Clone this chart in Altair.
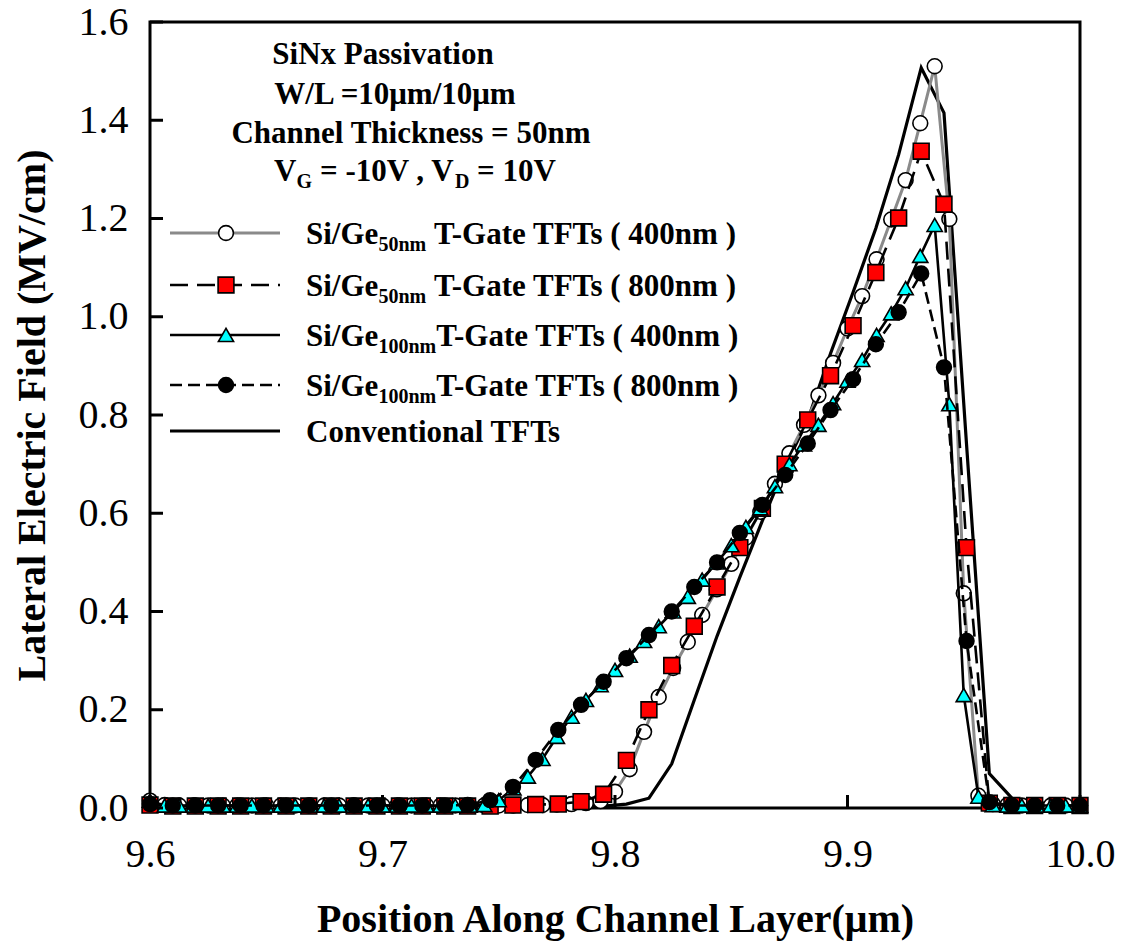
import altair as alt
import pandas as pd

# ---------------- data ----------------
# fine mesh (open circles / triangles series)
x_fine = [9.6, 9.6063, 9.6125, 9.6188, 9.625, 9.6313, 9.6375, 9.6438, 9.65, 9.6563,
          9.6625, 9.6688, 9.675, 9.6813, 9.6875, 9.6938, 9.7, 9.7063, 9.7125, 9.7188,
          9.725, 9.7313, 9.7375, 9.7438, 9.75, 9.7563, 9.7625, 9.7688, 9.775, 9.7813,
          9.7875, 9.7938, 9.8, 9.8063, 9.8125, 9.8188, 9.825, 9.8313, 9.8375, 9.8438,
          9.85, 9.8563, 9.8625, 9.8688, 9.875, 9.8813, 9.8875, 9.8938, 9.9, 9.9063,
          9.9125, 9.9188, 9.925, 9.9313, 9.9375, 9.9438, 9.95, 9.9563, 9.9625, 9.9688,
          9.975, 9.9813, 9.9875, 9.9938, 10.0]
# coarse mesh (squares / dots / conventional)
x_coarse = [9.6, 9.6098, 9.6195, 9.6293, 9.639, 9.6488, 9.6585, 9.6683, 9.678, 9.6878,
            9.6976, 9.7073, 9.7171, 9.7268, 9.7366, 9.7463, 9.7561, 9.7659, 9.7756, 9.7854,
            9.7951, 9.8049, 9.8146, 9.8244, 9.8341, 9.8439, 9.8537, 9.8634, 9.8732, 9.8829,
            9.8927, 9.9024, 9.9122, 9.922, 9.9317, 9.9415, 9.9512, 9.961, 9.9707, 9.9805,
            9.9902, 10.0]

y_sige50_400 = [0.015,
                0.006, 0.005, 0.005, 0.005, 0.005, 0.005, 0.005, 0.005, 0.005, 0.005,
                0.005, 0.005, 0.005, 0.005, 0.005, 0.005, 0.005, 0.005, 0.005, 0.005,
                0.005, 0.005, 0.005, 0.005, 0.005, 0.006, 0.006, 0.007, 0.008, 0.010, 0.014,
                0.033, 0.079, 0.155, 0.226, 0.285, 0.338, 0.393, 0.445, 0.497, 0.55,
                0.603, 0.66, 0.722, 0.78, 0.84, 0.906, 0.976, 1.042, 1.117, 1.198,
                1.278, 1.394, 1.51, 1.199, 0.437, 0.025,
                0.008, 0.006, 0.005, 0.005, 0.005, 0.005, 0.005]
y_sige50_800 = [0.006, 0.004, 0.004, 0.004, 0.004, 0.004, 0.004, 0.004, 0.004, 0.004,
                0.004, 0.004, 0.004, 0.004, 0.004, 0.004,
                0.006, 0.007, 0.008, 0.013, 0.028, 0.097, 0.2, 0.29, 0.37, 0.45,
                0.53, 0.61, 0.70, 0.79, 0.88, 0.982, 1.09, 1.201, 1.337, 1.229,
                0.53, 0.01, 0.005, 0.005, 0.005, 0.005]
y_sige100_400 = [0.015,
                 0.005, 0.005, 0.005, 0.005, 0.005, 0.005, 0.005, 0.005, 0.005, 0.005,
                 0.005, 0.005, 0.005, 0.005, 0.005, 0.005, 0.005, 0.005, 0.005, 0.005,
                 0.005, 0.005, 0.006,
                 0.016, 0.04, 0.064, 0.10, 0.145, 0.186, 0.22, 0.25, 0.281, 0.31,
                 0.34, 0.37, 0.40, 0.43, 0.465, 0.50, 0.535, 0.572, 0.61, 0.655,
                 0.70, 0.74, 0.78, 0.824, 0.87, 0.912, 0.963, 1.007, 1.058, 1.124,
                 1.187, 0.822, 0.23, 0.023,
                 0.006, 0.005, 0.005, 0.005, 0.005, 0.005, 0.005]
y_sige100_800 = [0.008,
                 0.005, 0.005, 0.005, 0.005, 0.005, 0.005, 0.005, 0.005, 0.005, 0.005,
                 0.005, 0.005, 0.005, 0.006,
                 0.016, 0.043, 0.098, 0.159, 0.21, 0.257, 0.305, 0.352, 0.40, 0.45,
                 0.50, 0.56, 0.617, 0.678, 0.742, 0.81, 0.873, 0.944, 1.009, 1.088,
                 0.897, 0.34, 0.012,
                 0.005, 0.005, 0.005, 0.005]
y_conv = [0.003, 0.003, 0.003, 0.003, 0.003, 0.003, 0.003, 0.003, 0.003, 0.003,
          0.003, 0.003, 0.003, 0.003, 0.003, 0.003, 0.003, 0.003, 0.003, 0.003,
          0.004, 0.008, 0.02, 0.09, 0.22, 0.35, 0.47, 0.585, 0.695, 0.79,
          0.925, 1.05, 1.18, 1.33, 1.507, 1.415, 0.74, 0.07, 0.02, 0.006,
          0.004, 0.003]

X_TICKS = [9.6, 9.7, 9.8, 9.9, 10.0]
Y_TICKS = [0.0, 0.2, 0.4, 0.6, 0.8, 1.0, 1.2, 1.4, 1.6]

LEGEND_MAIN = ["Si/Ge", "Si/Ge", "Si/Ge", "Si/Ge", "Conventional TFTs"]
LEGEND_SUB = ["50nm", "50nm", "100nm", "100nm", ""]
LEGEND_REST = ["T-Gate TFTs ( 400nm )", "T-Gate TFTs ( 800nm )",
               "T-Gate TFTs ( 400nm )", "T-Gate TFTs ( 800nm )", ""]

NOTE_LINES = ["SiNx Passivation", "W/L =10\u03bcm/10\u03bcm", "Channel Thickness = 50nm"]

# ---------------- layout / style ----------------
FONT = "Liberation Serif"
W, H = 930, 786

xs = alt.Scale(domain=[9.6, 10.0], nice=False, zero=False)
ys = alt.Scale(domain=[0.0, 1.6], nice=False, zero=True)

x_axis = alt.Axis(values=X_TICKS, format=".1f", title="Position Along Channel Layer(\u03bcm)",
                  grid=False, domain=False, ticks=False, labelFont=FONT, labelFontSize=40,
                  labelColor="black", labelPadding=26, labelFlush=False, labelOverlap=False,
                  titleFont=FONT, titleFontSize=40, titleFontWeight="bold", titleColor="black",
                  titlePadding=25)
y_axis = alt.Axis(values=Y_TICKS, format=".1f", title="Lateral Electric Field (MV/cm)",
                  grid=False, domain=False, ticks=False, labelFont=FONT, labelFontSize=40,
                  labelColor="black", labelPadding=22, labelOverlap=False,
                  titleFont=FONT, titleFontSize=40, titleFontWeight="bold", titleColor="black",
                  titlePadding=26)

XENC = alt.X("x:Q", scale=xs, axis=x_axis)
YENC = alt.Y("y:Q", scale=ys, axis=y_axis)


def frame(xv, yv):
    return pd.DataFrame({"x": xv, "y": yv})


def line(df, color, width, dash=None):
    kw = dict(color=color, strokeWidth=width, strokeJoin="miter")
    if dash:
        kw["strokeDash"] = dash
    return alt.Chart(df).mark_line(**kw).encode(x=XENC, y=YENC)


def points(df, shape, fill, size):
    return alt.Chart(df).mark_point(shape=shape, filled=True, fill=fill, stroke="black",
                                    strokeWidth=1.6, size=size, opacity=1).encode(x=XENC, y=YENC)


dA = frame(x_fine, y_sige50_400)
dB = frame(x_coarse, y_sige50_800)
dC = frame(x_fine, y_sige100_400)
dD = frame(x_coarse, y_sige100_800)
dE = frame(x_coarse, y_conv)

GRAY = "#8a8a8a"
DASH_B = [18, 9]
DASH_D = [12, 6]
S_CIRC, S_SQ, S_TRI = 220, 250, 230

layers = []
layers.append(line(dE, "black", 3.2))
layers.append(line(dA, GRAY, 3))
layers.append(points(dA, "circle", "white", S_CIRC))
layers.append(line(dB, "black", 2.6, DASH_B))
layers.append(points(dB, "square", "#ff0000", S_SQ))
layers.append(line(dC, "black", 2.6))
layers.append(points(dC, "triangle-up", "#00ffff", S_TRI))
layers.append(line(dD, "black", 2.6, DASH_D))
layers.append(points(dD, "circle", "black", S_CIRC))

# inward ticks
layers.append(alt.Chart(pd.DataFrame({"x": X_TICKS})).mark_rule(color="black", strokeWidth=3)
              .encode(x=XENC, y=alt.value(H), y2=alt.value(H - 13)))
layers.append(alt.Chart(pd.DataFrame({"y": Y_TICKS})).mark_rule(color="black", strokeWidth=3)
              .encode(y=YENC, x=alt.value(0), x2=alt.value(13)))

# ---------------- legend (manual, with subscripts) ----------------
ROW_Y = [211, 263, 313, 363, 409]
LX0, LX1, LXM, LXT = 20, 130, 76, 156
LFS, SFS = 31, 20
row_styles = [(GRAY, None), ("black", DASH_B), ("black", None), ("black", DASH_D), ("black", None)]
row_marks = [("circle", "white", S_CIRC), ("square", "#ff0000", S_SQ), ("triangle-up", "#00ffff", S_TRI),
             ("circle", "black", S_CIRC), None]
one = pd.DataFrame({"k": [0]})
for i, ry in enumerate(ROW_Y):
    col, dash = row_styles[i]
    kw = dict(color=col, strokeWidth=3 if i in (0, 4) else 2.6)
    if dash:
        kw["strokeDash"] = dash
    layers.append(alt.Chart(one).mark_rule(**kw).encode(
        x=alt.value(LX0), x2=alt.value(LX1), y=alt.value(ry)))
    if row_marks[i]:
        shp, fil, sz = row_marks[i]
        layers.append(alt.Chart(one).mark_point(shape=shp, filled=True, fill=fil, stroke="black",
                                                strokeWidth=1.6, size=sz, opacity=1)
                      .encode(x=alt.value(LXM), y=alt.value(ry)))
    layers.append(alt.Chart(pd.DataFrame({"t": [LEGEND_MAIN[i]]})).mark_text(
        font=FONT, fontSize=LFS, fontWeight="bold", align="left", baseline="alphabetic",
        color="black").encode(x=alt.value(LXT), y=alt.value(ry + 11), text="t:N"))
    if LEGEND_SUB[i]:
        sub_x = LXT + 72.4
        layers.append(alt.Chart(pd.DataFrame({"t": [LEGEND_SUB[i]]})).mark_text(
            font=FONT, fontSize=SFS, fontWeight="bold", align="left", baseline="alphabetic",
            color="black").encode(x=alt.value(sub_x), y=alt.value(ry + 18), text="t:N"))
        sub_w = 47.8 if LEGEND_SUB[i] == "50nm" else 57.8
        gap = 7.75 if LEGEND_SUB[i] == "50nm" else 0
        layers.append(alt.Chart(pd.DataFrame({"t": [LEGEND_REST[i]]})).mark_text(
            font=FONT, fontSize=LFS, fontWeight="bold", align="left", baseline="alphabetic",
            color="black").encode(x=alt.value(sub_x + sub_w + gap), y=alt.value(ry + 11), text="t:N"))

# ---------------- annotation ----------------
NOTE_Y = [31, 71, 110]
NOTE_X = [233, 245, 261]
for t, nx, ny in zip(NOTE_LINES, NOTE_X, NOTE_Y):
    layers.append(alt.Chart(pd.DataFrame({"t": [t]})).mark_text(
        font=FONT, fontSize=LFS, fontWeight="bold", align="center", baseline="alphabetic",
        color="black").encode(x=alt.value(nx), y=alt.value(ny + 11), text="t:N"))

vy = 148 + 11
vparts = [("V", 124, LFS, 0), ("G", 146.5, SFS, 7), ("= -10V , V", 170, LFS, 0),
          ("D", 305, SFS, 7), ("= 10V", 327, LFS, 0)]
for t, px, fs, dy in vparts:
    layers.append(alt.Chart(pd.DataFrame({"t": [t]})).mark_text(
        font=FONT, fontSize=fs, fontWeight="bold", align="left", baseline="alphabetic",
        color="black").encode(x=alt.value(px), y=alt.value(vy + dy), text="t:N"))

chart = alt.layer(*layers).properties(
    width=W, height=H,
    autosize=alt.AutoSizeParams(type="none"),
    padding={"left": 142, "top": 14, "right": 38, "bottom": 134},
    background="white",
).configure_view(stroke="black", strokeWidth=3)

chart.save("out.html", embed_options={"renderer": "svg", "actions": False})
